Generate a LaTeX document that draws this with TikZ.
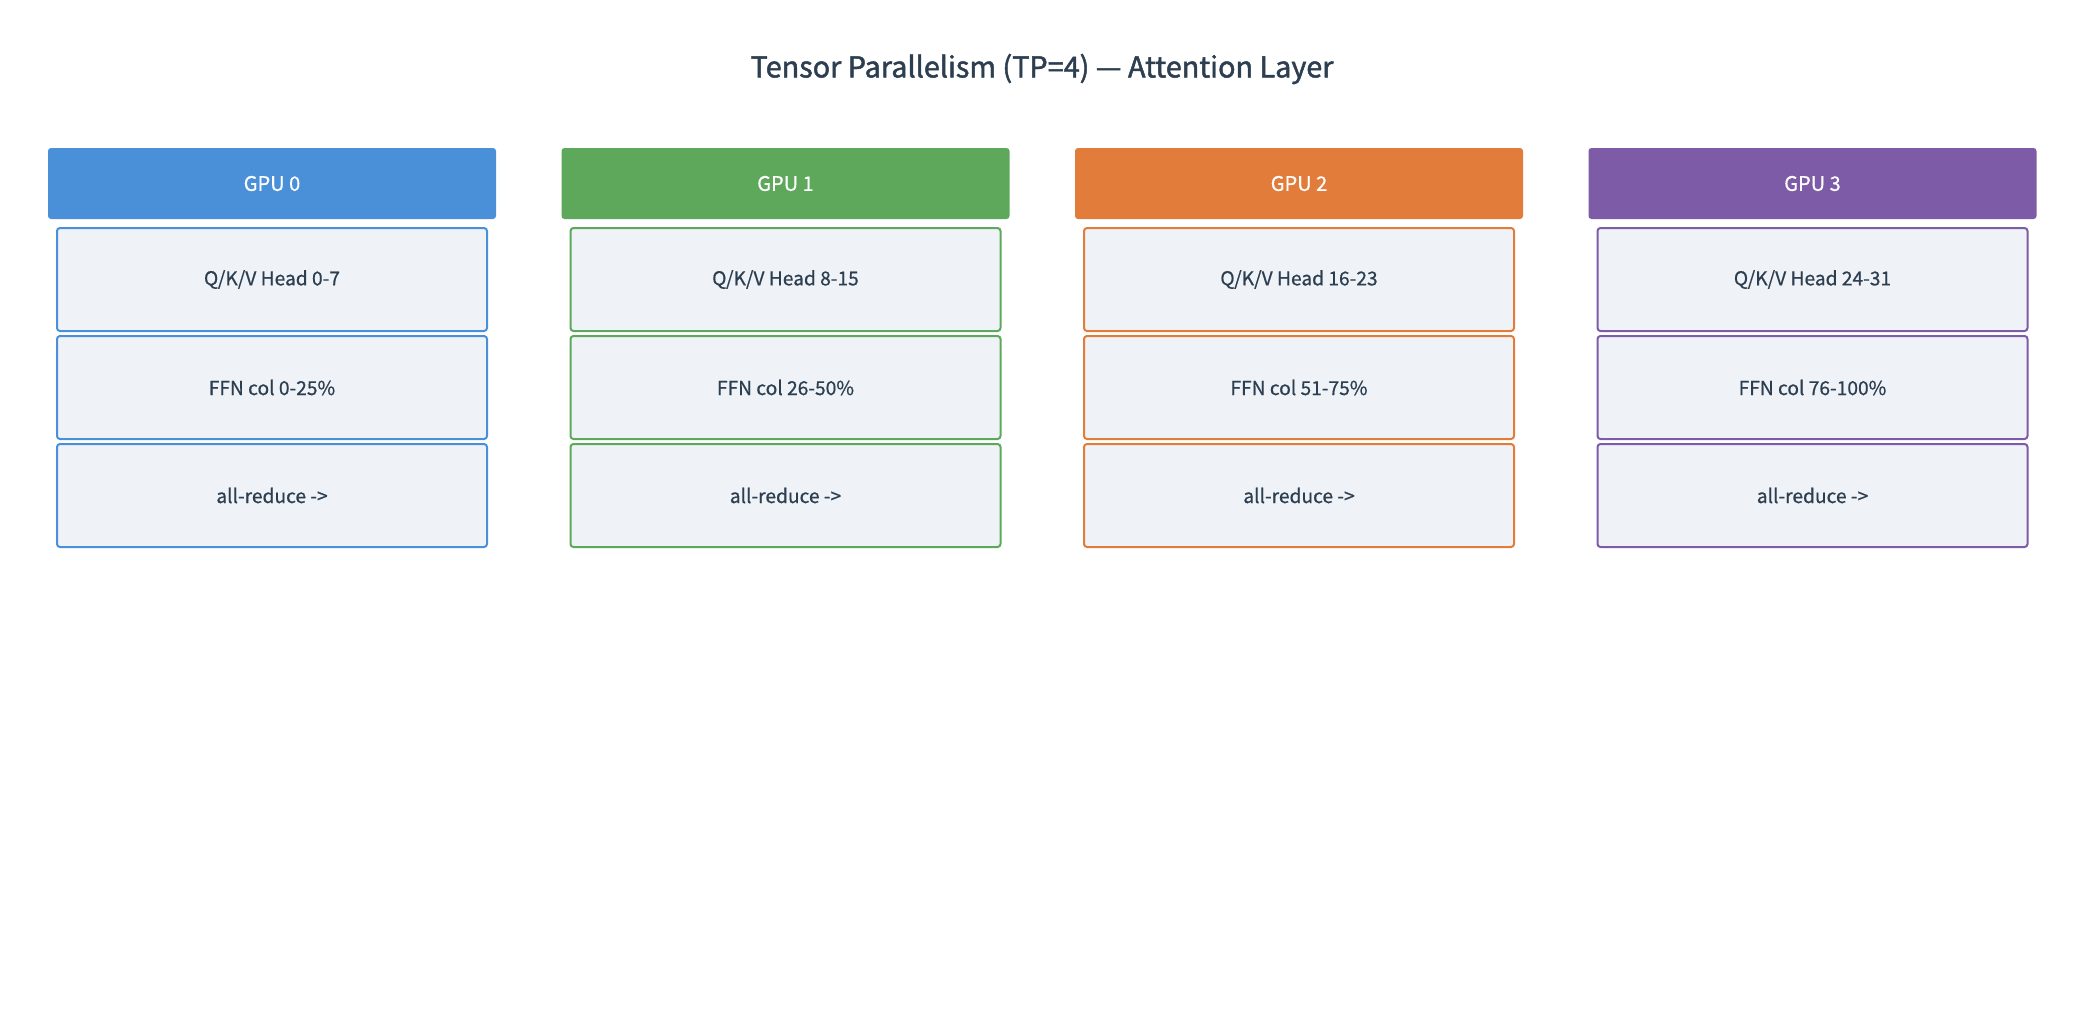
\documentclass[tikz,border=0pt]{standalone}
\usepackage{fontspec}
\setmainfont{Noto Sans CJK KR}
\newfontfamily\titlefont[FakeBold=1.6]{Noto Sans CJK KR}
\newfontfamily\slabfont[FakeBold=0.6]{Noto Sans CJK KR}
\usepackage{tikz}
\usepackage{xcolor}
\usetikzlibrary{positioning}

\definecolor{gpublue}{HTML}{4A90D9}
\definecolor{gpugreen}{HTML}{5DA85B}
\definecolor{gpuorange}{HTML}{E27C3A}
\definecolor{gpupurple}{HTML}{7E5BA6}
\definecolor{slabfill}{HTML}{EFF3F8}
\definecolor{inktext}{HTML}{2C3E50}

\tikzset{
    gpuhead/.style={rectangle, rounded corners=1.5pt, minimum width=224pt, minimum height=35.5pt,
        inner sep=0pt, outer sep=0pt, text=white, font=\slabfont\fontsize{10}{12}\selectfont},
    slab/.style={rectangle, rounded corners=1.5pt, draw=#1, fill=slabfill, line width=1pt,
        minimum width=215pt, minimum height=51.5pt, inner sep=0pt, outer sep=0pt,
        text=inktext, font=\slabfont\fontsize{9.6}{12}\selectfont},
}

\begin{document}
\begin{tikzpicture}[x=0.5pt, y=-0.5pt, node distance=2.5pt]
            \useasboundingbox (0, 0) rectangle (2085, 1035);
            \node[text=inktext, font=\titlefont\fontsize{14.4}{17}\selectfont] (title) at (1042, 69) {Tensor Parallelism (TP=4) — Attention Layer};

            \node[gpuhead, fill=gpublue] (gpu0) at (272, 183.5) {GPU 0};
            \node[gpuhead, fill=gpugreen] (gpu1) at (785.5, 183.5) {GPU 1};
            \node[gpuhead, fill=gpuorange] (gpu2) at (1299, 183.5) {GPU 2};
            \node[gpuhead, fill=gpupurple] (gpu3) at (1812.5, 183.5) {GPU 3};

            \node[slab=gpublue, below=4.5pt of gpu0] (qkv0) {Q/K/V Head 0-7};
            \node[slab=gpublue, below=of qkv0] (ffn0) {FFN col 0-25\%};
            \node[slab=gpublue, below=of ffn0] (ar0) {all-reduce ->};

            \node[slab=gpugreen, below=4.5pt of gpu1] (qkv1) {Q/K/V Head 8-15};
            \node[slab=gpugreen, below=of qkv1] (ffn1) {FFN col 26-50\%};
            \node[slab=gpugreen, below=of ffn1] (ar1) {all-reduce ->};

            \node[slab=gpuorange, below=4.5pt of gpu2] (qkv2) {Q/K/V Head 16-23};
            \node[slab=gpuorange, below=of qkv2] (ffn2) {FFN col 51-75\%};
            \node[slab=gpuorange, below=of ffn2] (ar2) {all-reduce ->};

            \node[slab=gpupurple, below=4.5pt of gpu3] (qkv3) {Q/K/V Head 24-31};
            \node[slab=gpupurple, below=of qkv3] (ffn3) {FFN col 76-100\%};
            \node[slab=gpupurple, below=of ffn3] (ar3) {all-reduce ->};
        \end{tikzpicture}
\end{document}
